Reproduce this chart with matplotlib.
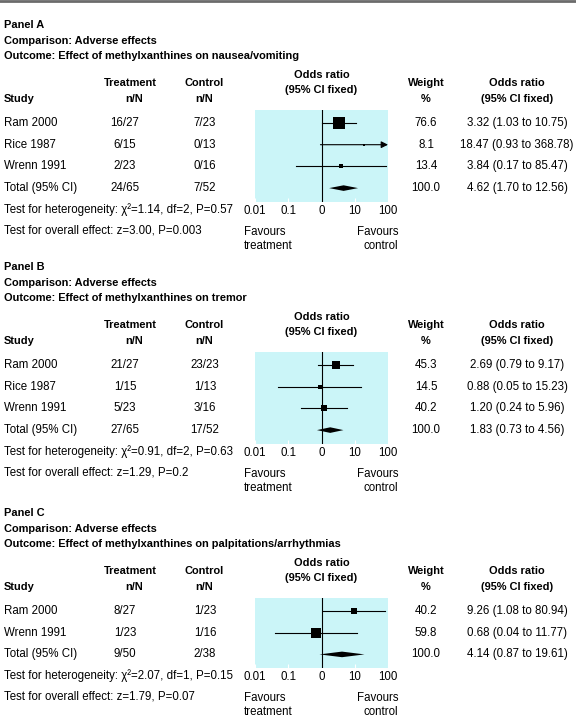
import matplotlib
matplotlib.use("Agg")
import matplotlib.pyplot as plt
from matplotlib import font_manager
from matplotlib.patches import Polygon

# condensed face if it is installed, else plain Liberation Sans
names = {f.name for f in font_manager.fontManager.ttflist}
if "Liberation Sans Narrow" in names:
    plt.rcParams['font.family'] = ['Liberation Sans Narrow', 'DejaVu Sans']
    FS, FSB = 10.0, 9.6
else:
    plt.rcParams['font.family'] = ['Liberation Sans', 'DejaVu Sans']
    FS, FSB = 8.3, 7.9

# ---- data ----
a_titles = ["Panel A", "Comparison: Adverse effects",
            "Outcome: Effect of methylxanthines on nausea/vomiting"]
a_studies = ["Ram 2000", "Rice 1987", "Wrenn 1991"]
a_treat = ["16/27", "6/15", "2/23", "24/65"]
a_ctrl = ["7/23", "0/13", "0/16", "7/52"]
a_or = [3.32, 18.47, 3.84]
a_lo = [1.03, 0.93, 0.17]
a_hi = [10.75, 368.78, 85.47]
a_w = [76.6, 8.1, 13.4]
a_tot = [4.62, 1.70, 12.56]
a_tests = ["Test for heterogeneity: χ²=1.14, df=2, P=0.57",
           "Test for overall effect: z=3.00, P=0.003"]

b_titles = ["Panel B", "Comparison: Adverse effects",
            "Outcome: Effect of methylxanthines on tremor"]
b_studies = ["Ram 2000", "Rice 1987", "Wrenn 1991"]
b_treat = ["21/27", "1/15", "5/23", "27/65"]
b_ctrl = ["23/23", "1/13", "3/16", "17/52"]
b_or = [2.69, 0.88, 1.20]
b_lo = [0.79, 0.05, 0.24]
b_hi = [9.17, 15.23, 5.96]
b_w = [45.3, 14.5, 40.2]
b_tot = [1.83, 0.73, 4.56]
b_tests = ["Test for heterogeneity: χ²=0.91, df=2, P=0.63",
           "Test for overall effect: z=1.29, P=0.2"]

c_titles = ["Panel C", "Comparison: Adverse effects",
            "Outcome: Effect of methylxanthines on palpitations/arrhythmias"]
c_studies = ["Ram 2000", "Wrenn 1991"]
c_treat = ["8/27", "1/23", "9/50"]
c_ctrl = ["1/23", "1/16", "2/38"]
c_or = [9.26, 0.68]
c_lo = [1.08, 0.04]
c_hi = [80.94, 11.77]
c_w = [40.2, 59.8]
c_tot = [4.14, 0.87, 19.61]
c_tests = ["Test for heterogeneity: χ²=2.07, df=1, P=0.15",
           "Test for overall effect: z=1.79, P=0.07"]

ticks = [0.01, 0.1, 1, 10, 100]
tick_labels = ["0.01", "0.1", "0", "10", "100"]

W, H = 576, 720
CYAN = "#cbf5f8"

fig = plt.figure(figsize=(W / 100, H / 100), dpi=100)
bg = fig.add_axes([0, 0, 1, 1])
bg.set_xlim(0, W)
bg.set_ylim(H, 0)
bg.axis("off")
bg.axhline(1.3, color="#6b6b6b", lw=2.0)

X_LEFT, X_TRT, X_CTL, X_WT, X_OR = 4, 125, 205, 426, 517
BOX_L, BOX_R = 255, 388
ROW = 21.7


def txt(x, y, s, ha="center", bold=False):
    bg.text(x, y, s, ha=ha, va="center", fontsize=FSB if bold else FS,
            fontweight="bold" if bold else "normal")


def panel(top, titles, studies, treat, ctrl, ors, los, his, ws, tot, tests):
    for i, t in enumerate(titles):
        txt(X_LEFT, top + 15.5 * i, t, ha="left", bold=True)
    h1, h2 = top + 58, top + 74
    txt(X_LEFT, h2, "Study", ha="left", bold=True)
    txt(X_TRT + 5, h1, "Treatment", bold=True)
    txt(X_TRT + 9, h2, "n/N", bold=True)
    txt(X_CTL - 1, h1, "Control", bold=True)
    txt(X_CTL - 1, h2, "n/N", bold=True)
    txt((BOX_L + BOX_R) / 2, top + 50, "Odds ratio", bold=True)
    txt((BOX_L + BOX_R) / 2, top + 65, "(95% CI fixed)", bold=True)
    txt(X_WT, h1, "Weight", bold=True)
    txt(X_WT, h2, "%", bold=True)
    txt(X_OR, h1, "Odds ratio", bold=True)
    txt(X_OR, h2, "(95% CI fixed)", bold=True)

    n = len(studies)
    ys = [top + 98 + ROW * i for i in range(n + 1)]
    names = studies + ["Total (95% CI)"]
    weights = ws + [100.0]
    ors_all = ors + [tot[0]]
    los_all = los + [tot[1]]
    his_all = his + [tot[2]]
    for i, y in enumerate(ys):
        txt(X_LEFT, y, names[i], ha="left")
        txt(X_TRT, y, treat[i])
        txt(X_CTL, y, ctrl[i])
        txt(X_WT, y, f"{weights[i]:.1f}")
        txt(X_OR, y, f"{ors_all[i]:.2f} ({los_all[i]:.2f} to {his_all[i]:.2f})")

    het = ys[-1] + 21.5
    ovr = het + 21
    txt(X_LEFT, het, tests[0], ha="left")
    txt(X_LEFT, ovr, tests[1], ha="left")
    txt(BOX_L - 11, ovr + 1.5, "Favours", ha="left")
    txt(BOX_L - 11, ovr + 15.5, "treatment", ha="left")
    txt(BOX_R + 10, ovr + 1.5, "Favours", ha="right")
    txt(BOX_R + 10, ovr + 15.5, "control", ha="right")

    # forest plot area, y in pixel units
    b_top, b_bot = ys[0] - 13, ys[-1] + 14
    ax = fig.add_axes([BOX_L / W, 1 - b_bot / H, (BOX_R - BOX_L) / W,
                       (b_bot - b_top) / H])
    ax.set_facecolor(CYAN)
    ax.set_xscale("log")
    ax.set_xlim(0.01, 100)
    ax.set_ylim(b_bot, b_top)
    for s in ax.spines.values():
        s.set_visible(False)
    ax.set_xticks(ticks)
    ax.set_xticklabels(tick_labels)
    ax.minorticks_off()
    ax.set_yticks([])
    ax.tick_params(axis="x", direction="in", length=3, color="white",
                   labelsize=FS, pad=2.2)
    ax.axvline(1, color="black", lw=0.8)

    for i in range(n):
        y = ys[i]
        hi = his[i]
        if hi > 100:
            ax.annotate("", xy=(100, y), xytext=(los[i], y),
                        arrowprops=dict(arrowstyle="-|>", lw=0.8, color="black",
                                        mutation_scale=10, shrinkA=0, shrinkB=0))
        else:
            ax.plot([los[i], hi], [y, y], color="black", lw=0.8)
        side = 2 + 0.12 * ws[i]
        ax.plot(ors[i], y, marker="s", color="black", ms=side * 0.72, mew=0)

    yt = ys[-1]
    ax.add_patch(Polygon([(tot[1], yt), (tot[0], yt - 2.8), (tot[2], yt),
                          (tot[0], yt + 2.8)], closed=True, color="black", lw=0))


panel(25, a_titles, a_studies, a_treat, a_ctrl, a_or, a_lo, a_hi, a_w, a_tot, a_tests)
panel(267, b_titles, b_studies, b_treat, b_ctrl, b_or, b_lo, b_hi, b_w, b_tot, b_tests)
panel(513, c_titles, c_studies, c_treat, c_ctrl, c_or, c_lo, c_hi, c_w, c_tot, c_tests)

fig.savefig("out.png", dpi=100)
